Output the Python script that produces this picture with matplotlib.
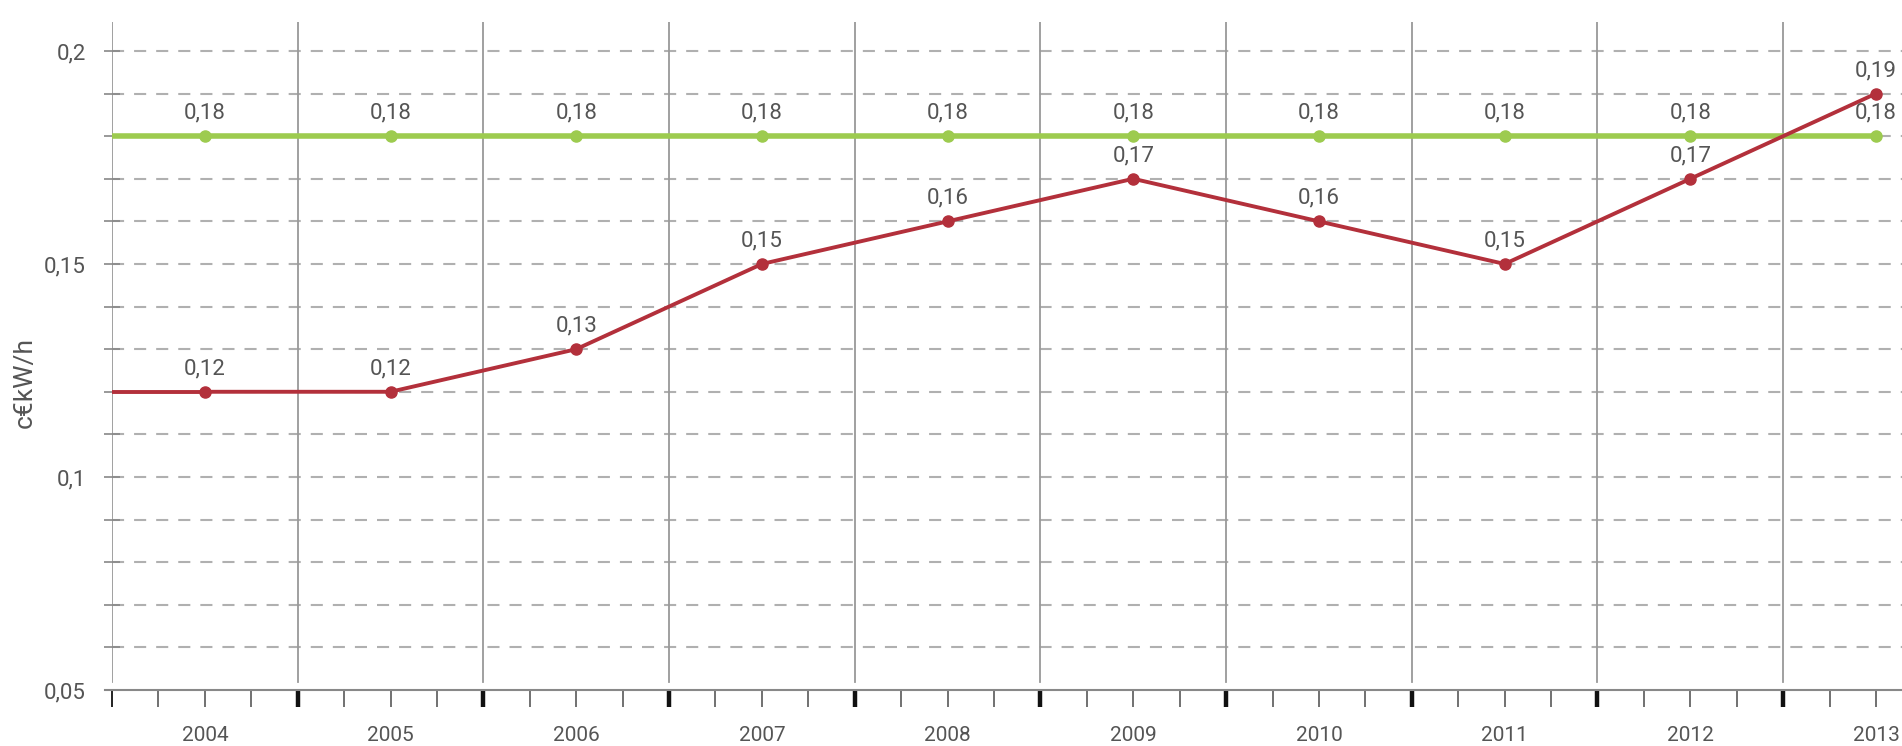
import matplotlib.pyplot as plt
from matplotlib.ticker import MultipleLocator, FuncFormatter, FixedLocator, NullFormatter
import numpy as np

# datos
anios = ['2004', '2005', '2006', '2007', '2008', '2009', '2010', '2011', '2012', '2013']
precio_rojo = [0.12, 0.12, 0.13, 0.15, 0.16, 0.17, 0.16, 0.15, 0.17, 0.19]
precio_verde = [0.18, 0.18, 0.18, 0.18, 0.18, 0.18, 0.18, 0.18, 0.18, 0.18]
etiqueta_y = 'c€kW/h'

plt.rcParams['font.family'] = ['Roboto', 'DejaVu Sans']

ROJO = '#b3303b'
VERDE = '#9dcb4f'
GRIS = '#555555'

fig = plt.figure(figsize=(19.02, 7.46), dpi=100)
ax = fig.add_axes([0.0589, 0.0751, 0.9411, 0.8954])

x = np.arange(len(anios))
x0, x1 = -0.5, 9.14

# rejilla horizontal discontinua cada 0,01
for v in np.arange(0.06, 0.205, 0.01):
    ax.axhline(v, color='#b0b0b0', lw=1.5, ls=(0, (5.8, 4.8)), zorder=1)

# lineas verticales entre categorias
fronteras = np.arange(-0.5, len(anios), 1.0)
for b in fronteras:
    ax.axvline(b, ymin=0.012, ymax=1, color='#999999', lw=1.3, zorder=1)

# series (la linea empieza en el borde izquierdo)
for vals, col, lw in [(precio_verde, VERDE, 4.0), (precio_rojo, ROJO, 2.8)]:
    ax.plot([x0, x[0]], [vals[0], vals[0]], color=col, lw=lw, zorder=3, solid_capstyle='butt')
    ax.plot(x, vals, color=col, lw=lw, marker='o', markersize=8, zorder=4)
    for xi, v in zip(x, vals):
        ax.annotate(f'{v:.2f}'.replace('.', ','), (xi, v), xytext=(0, 9),
                    textcoords='offset points', ha='center', va='bottom',
                    fontsize=16, color=GRIS, zorder=5)

# ejes
for s in ['top', 'right', 'left']:
    ax.spines[s].set_visible(False)
ax.spines['bottom'].set_color('#888888')
ax.spines['bottom'].set_linewidth(1.5)
ax.spines['bottom'].set_bounds(-0.54, x1)

ax.yaxis.set_major_locator(MultipleLocator(0.05))
ax.yaxis.set_minor_locator(MultipleLocator(0.01))
ax.yaxis.set_major_formatter(FuncFormatter(lambda v, p: f'{v:g}'.replace('.', ',')))
ax.tick_params(axis='y', which='both', direction='inout', length=12, width=1.2,
               color='#888888', labelsize=16, labelcolor=GRIS, pad=13)

# eje x: ticks gruesos en las fronteras, finos cada cuarto, anios en el centro
cuartos = [p for p in np.arange(-0.5, len(anios), 0.25) if abs((p + 0.5) % 1) > 1e-9]
ax.xaxis.set_major_locator(FixedLocator(fronteras))
ax.xaxis.set_major_formatter(NullFormatter())
ax.xaxis.set_minor_locator(FixedLocator(cuartos))
ax.xaxis.set_minor_formatter(FuncFormatter(
    lambda v, p: anios[int(round(v))] if abs(v - round(v)) < 1e-6 and 0 <= round(v) < len(anios) else ''))
ax.tick_params(axis='x', which='major', direction='out', length=12, width=3.2, color='#111111')
ax.tick_params(axis='x', which='minor', direction='out', length=12, width=1.3, color='#666666',
               labelsize=15, labelcolor=GRIS, pad=14)

# limites despues de fijar los ticks
ax.set_xlim(x0, x1)
ax.set_ylim(0.05, 0.2068)

# el primer tick (en el eje y) es fino
primero = ax.xaxis.get_major_ticks()[0]
primero.tick1line.set_markeredgewidth(1.3)
primero.tick1line.set_color('#666666')

ax.set_ylabel(etiqueta_y, fontsize=19, color=GRIS)
ax.yaxis.set_label_coords(-0.042, 0.46)

fig.savefig('out.png', dpi=100)
